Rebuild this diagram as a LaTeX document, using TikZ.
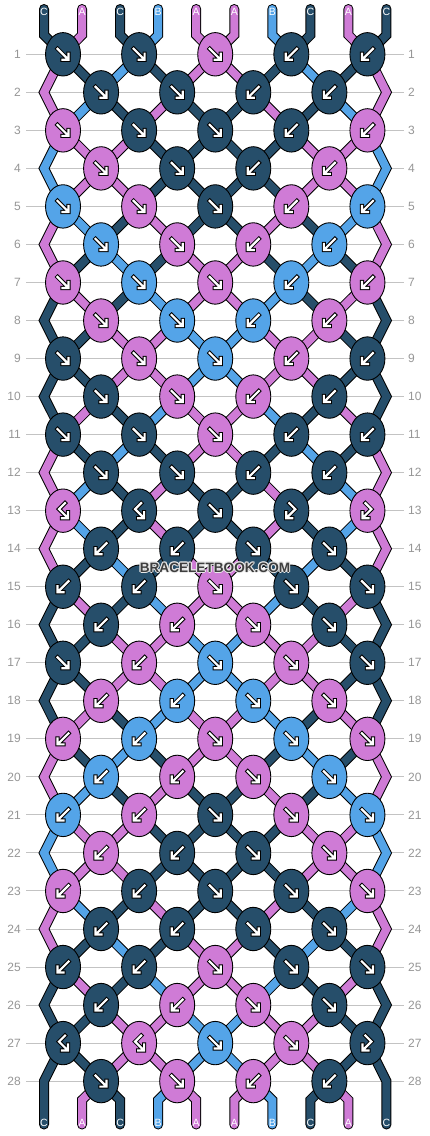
\documentclass[tikz,border=0pt]{standalone}
\usepackage{fontspec}
\setmainfont{Liberation Sans}
\usetikzlibrary{shapes.geometric}
\definecolor{cC}{RGB}{38,78,106}
\definecolor{cA}{RGB}{207,123,214}
\definecolor{cB}{RGB}{84,164,232}
\definecolor{gridc}{RGB}{195,195,195}
\definecolor{labc}{RGB}{150,150,150}
\definecolor{wmc}{RGB}{62,62,62}
\definecolor{wmhalo}{RGB}{232,232,232}
\pgfdeclarelayer{gridlayer}
\pgfdeclarelayer{outl}
\pgfdeclarelayer{fillc}
\pgfsetlayers{gridlayer,outl,fillc,main}
\newcommand\defrow[3]{\expandafter\def\csname #1#2\endcsname{#3}}
% string colours after each row (0 = top)
\defrow{S}{0}{C,A,C,B,A,A,B,C,A,C}
\defrow{S}{1}{A,C,B,C,A,A,C,B,C,A}
\defrow{S}{2}{A,B,C,A,C,C,A,C,B,A}
\defrow{S}{3}{B,A,A,C,C,C,C,A,A,B}
\defrow{S}{4}{B,A,A,C,C,C,C,A,A,B}
\defrow{S}{5}{A,B,C,A,C,C,A,C,B,A}
\defrow{S}{6}{A,C,B,C,A,A,C,B,C,A}
\defrow{S}{7}{C,A,C,B,A,A,B,C,A,C}
\defrow{S}{8}{C,C,A,A,B,B,A,A,C,C}
\defrow{S}{9}{C,C,A,A,B,B,A,A,C,C}
\defrow{S}{10}{C,A,C,B,A,A,B,C,A,C}
\defrow{S}{11}{A,C,B,C,A,A,C,B,C,A}
\defrow{S}{12}{A,B,C,A,C,C,A,C,B,A}
\defrow{S}{13}{A,B,C,A,C,C,A,C,B,A}
\defrow{S}{14}{A,C,B,C,A,A,C,B,C,A}
\defrow{S}{15}{C,A,C,B,A,A,B,C,A,C}
\defrow{S}{16}{C,C,A,A,B,B,A,A,C,C}
\defrow{S}{17}{C,C,A,A,B,B,A,A,C,C}
\defrow{S}{18}{C,A,C,B,A,A,B,C,A,C}
\defrow{S}{19}{A,C,B,C,A,A,C,B,C,A}
\defrow{S}{20}{A,B,C,A,C,C,A,C,B,A}
\defrow{S}{21}{B,A,A,C,C,C,C,A,A,B}
\defrow{S}{22}{B,A,A,C,C,C,C,A,A,B}
\defrow{S}{23}{A,B,C,A,C,C,A,C,B,A}
\defrow{S}{24}{A,C,B,C,A,A,C,B,C,A}
\defrow{S}{25}{C,A,C,B,A,A,B,C,A,C}
\defrow{S}{26}{C,C,A,A,B,B,A,A,C,C}
\defrow{S}{27}{C,C,A,A,B,B,A,A,C,C}
\defrow{S}{28}{C,A,C,B,A,A,B,C,A,C}
% knots: colour/type
\defrow{K}{1}{C/f,C/f,A/f,C/b,C/b}
\defrow{K}{2}{C/f,C/f,C/b,C/b}
\defrow{K}{3}{A/f,C/f,C/f,C/b,A/b}
\defrow{K}{4}{A/f,C/f,C/b,A/b}
\defrow{K}{5}{B/f,A/f,C/f,A/b,B/b}
\defrow{K}{6}{B/f,A/f,A/b,B/b}
\defrow{K}{7}{A/f,B/f,A/f,B/b,A/b}
\defrow{K}{8}{A/f,B/f,B/b,A/b}
\defrow{K}{9}{C/f,A/f,B/f,A/b,C/b}
\defrow{K}{10}{C/f,A/f,A/b,C/b}
\defrow{K}{11}{C/f,C/f,A/f,C/b,C/b}
\defrow{K}{12}{C/f,C/f,C/b,C/b}
\defrow{K}{13}{A/fb,C/fb,C/f,C/bf,A/bf}
\defrow{K}{14}{C/b,C/b,C/f,C/f}
\defrow{K}{15}{C/b,C/b,A/f,C/f,C/f}
\defrow{K}{16}{C/b,A/b,A/f,C/f}
\defrow{K}{17}{C/f,A/b,B/f,A/f,C/f}
\defrow{K}{18}{A/b,B/b,B/f,A/f}
\defrow{K}{19}{A/b,B/b,A/f,B/f,A/f}
\defrow{K}{20}{B/b,A/b,A/f,B/f}
\defrow{K}{21}{B/b,A/b,C/f,A/f,B/f}
\defrow{K}{22}{A/b,C/b,C/f,A/f}
\defrow{K}{23}{A/b,C/b,C/f,C/f,A/f}
\defrow{K}{24}{C/b,C/b,C/f,C/f}
\defrow{K}{25}{C/b,C/b,A/f,C/f,C/f}
\defrow{K}{26}{C/b,A/b,A/f,C/f}
\defrow{K}{27}{C/fb,A/fb,B/f,A/f,C/bf}
\defrow{K}{28}{C/f,A/f,A/b,C/b}

\newcommand\setPname[2]{%
  \ifnum#1=0 \edef\myPn{T-#2}%
  \else\ifnum#1=29 \edef\myPn{B-#2}%
  \else\ifodd#1 \pgfmathtruncatemacro\myk{div(#2,2)}\edef\myPn{K-#1-\myk}%
  \else\ifnum#2=0 \edef\myPn{E-#1-L}%
  \else\ifnum#2=9 \edef\myPn{E-#1-R}%
  \else\pgfmathtruncatemacro\myk{div(#2-1,2)}\edef\myPn{K-#1-\myk}%
  \fi\fi\fi\fi\fi}
\newcommand\strpath[2]{}
\newcommand\arrpaths[2]{%
  \begin{scope}[shift={(#1)}]
  \draw[arrblk] #2; \draw[arrwht] #2;
  \end{scope}}
\newcommand\drawarrf[1]{\arrpaths{#1}{(-5.5,-5.5)--(4.5,4.5) (5.5,-0.5)--(5.5,5.5)--(-0.5,5.5)}}
\newcommand\drawarrb[1]{\arrpaths{#1}{(5.5,-5.5)--(-4.5,4.5) (-5.5,-0.5)--(-5.5,5.5)--(0.5,5.5)}}
\newcommand\drawarrfb[1]{\arrpaths{#1}{(2,-7.5)--(-4,-1.5)--(4,6.5) (5,1.5)--(5,7.5)--(-1,7.5)}}
\newcommand\drawarrbf[1]{\arrpaths{#1}{(-2,-7.5)--(4,-1.5)--(-4,6.5) (-5,1.5)--(-5,7.5)--(1,7.5)}}

% watermark text with a light halo, as one text
\newcommand\wmstr{BRACELETBOOK.COM}
\newcommand\halocopy[2]{\makebox[0pt][l]{\kern#1\raisebox{#2}{\textcolor{wmhalo}{\wmstr}}}}
\newcommand\halotext{\halocopy{1.1pt}{0pt}\halocopy{-1.1pt}{0pt}\halocopy{0pt}{1.1pt}\halocopy{0pt}{-1.1pt}%
  \halocopy{0.8pt}{0.8pt}\halocopy{-0.8pt}{0.8pt}\halocopy{0.8pt}{-0.8pt}\halocopy{-0.8pt}{-0.8pt}%
  \textcolor{wmc}{\wmstr}}

\newcommand\drawstrings{%
  % top strings into row 1
  \foreach \strc [count=\p from 0] in {C,A,C,B,A,A,B,C,A,C}{
    \setPname{1}{\p}
    \strpath{\strc}{(T-\p) -- (TB-\p) -- (\myPn.center)}
  }
  % inner connectors
  \foreach \r in {1,...,27}{
    \pgfmathtruncatemacro\rn{\r+1}
    \edef\lst{\csname S\r\endcsname}
    \foreach \strc [count=\p from 0] in \lst {
      \ifnum\p>0 \ifnum\p<9
        \setPname{\r}{\p}\let\pa\myPn
        \setPname{\rn}{\p}\let\pb\myPn
        \strpath{\strc}{(\pa.center) -- (\pb.center)}
      \fi\fi
    }
  }
  % edge strings
  \foreach \r in {2,4,...,28}{
    \pgfmathtruncatemacro\rp{\r-1}
    \pgfmathtruncatemacro\rn{\r+1}
    \edef\lst{\csname S\r\endcsname}
    \foreach \strc [count=\p from 0] in \lst {
      \ifnum\p=0 \def\isedge{1}\def\side{L}\else\ifnum\p=9 \def\isedge{1}\def\side{R}\else\def\isedge{0}\fi\fi
      \ifnum\isedge=1
        \setPname{\rp}{\p}\let\pa\myPn
        \setPname{\rn}{\p}\let\pb\myPn
        \strpath{\strc}{(\pa.center) -- (E-\r-\side.center) -- (\pb.center)}
      \fi
    }
  }
  % bottom strings out of row 28
  \foreach \strc [count=\p from 0] in {C,A,C,B,A,A,B,C,A,C}{
    \ifnum\p>0 \ifnum\p<9
      \setPname{28}{\p}
      \strpath{\strc}{(\myPn.center) -- (BB-\p) -- (B-\p)}
    \fi\fi
  }
}

\begin{document}
\begin{tikzpicture}[x=1pt,y=-1pt,
  knot/.style={ellipse, draw=black, line width=0.9pt, minimum width=35pt, minimum height=43.4pt, inner sep=0pt},
  strout/.style={line width=10pt, draw=black, line cap=round, line join=miter},
  strin/.style={line width=8pt, line cap=round, line join=miter},
  arrblk/.style={line width=4.2pt, draw=black, line cap=rect, line join=miter},
  arrwht/.style={line width=2.2pt, draw=white, line cap=rect, line join=miter},
  rowlab/.style={text=labc, font=\fontsize{12}{12}\selectfont, inner sep=0pt},
  strlab/.style={text=white, font=\fontsize{10.5}{10.5}\selectfont, inner sep=0pt},
  gridline/.style={draw=gridc, line width=1pt},
  wmtext/.style={font=\bfseries\fontsize{13.6}{13.6}\selectfont, inner sep=0pt}]
\useasboundingbox (0,0) rectangle (430,1136);

% row labels
\foreach \r in {1,...,28}{
  \pgfmathsetmacro\yy{54.3+38.03*(\r-1)}
  \node[rowlab, anchor=east] (L-\r) at (21,\yy) {\r};
  \node[rowlab, anchor=west] (R-\r) at (408,\yy) {\r};
}
\begin{pgfonlayer}{gridlayer}
\fill[white] (0,0) rectangle (430,1136);
\foreach \r in {1,...,28}{
  \draw[gridline] ([xshift=5pt]L-\r.east) -- ([xshift=-4pt]R-\r.west);
}
\end{pgfonlayer}

% string ends
\foreach \strc [count=\p from 0] in {C,A,C,B,A,A,B,C,A,C}{
  \pgfmathsetmacro\xx{44+38.05*\p}
  \coordinate (T-\p) at (\xx,9);
  \coordinate (TB-\p) at (\xx,35);
  \coordinate (BB-\p) at (\xx,1100);
  \coordinate (B-\p) at (\xx,1124.5);
}

% edge turning points
\foreach \r in {2,4,...,28}{
  \pgfmathsetmacro\yy{54.3+38.03*(\r-1)}
  \coordinate (E-\r-L) at (44,\yy);
  \coordinate (E-\r-R) at (386.45,\yy);
}

% knots
\foreach \r in {1,...,28}{
  \pgfmathsetmacro\yy{54.3+38.03*(\r-1)}
  \edef\klist{\csname K\r\endcsname}
  \foreach \kc/\kt [count=\k from 0] in \klist {
    \ifodd\r\relax
      \pgfmathsetmacro\xx{44+38.05*(2*\k+0.5)}%
    \else
      \pgfmathsetmacro\xx{44+38.05*(2*\k+1.5)}%
    \fi
    \node[knot, fill=c\kc] (K-\r-\k) at (\xx,\yy) {};
    \csname drawarr\kt\endcsname{K-\r-\k}
  }
}

% strings: outlines, then colours
\begin{pgfonlayer}{outl}
\renewcommand\strpath[2]{\draw[strout] #2;}
\drawstrings
\end{pgfonlayer}
\begin{pgfonlayer}{fillc}
\renewcommand\strpath[2]{\draw[strin, draw=c#1] #2;}
\drawstrings
\end{pgfonlayer}

% string labels
\foreach \strc [count=\p from 0] in {C,A,C,B,A,A,B,C,A,C}{
  \pgfmathsetmacro\xx{44+38.05*\p}
  \node[strlab] (TL-\p) at (\xx,11.8) {\strc};
  \node[strlab] (BL-\p) at (\xx,1123.3) {\strc};
}

% watermark
\node[wmtext] (wm) at (215,567.5) {\halotext};
\end{tikzpicture}
\end{document}
